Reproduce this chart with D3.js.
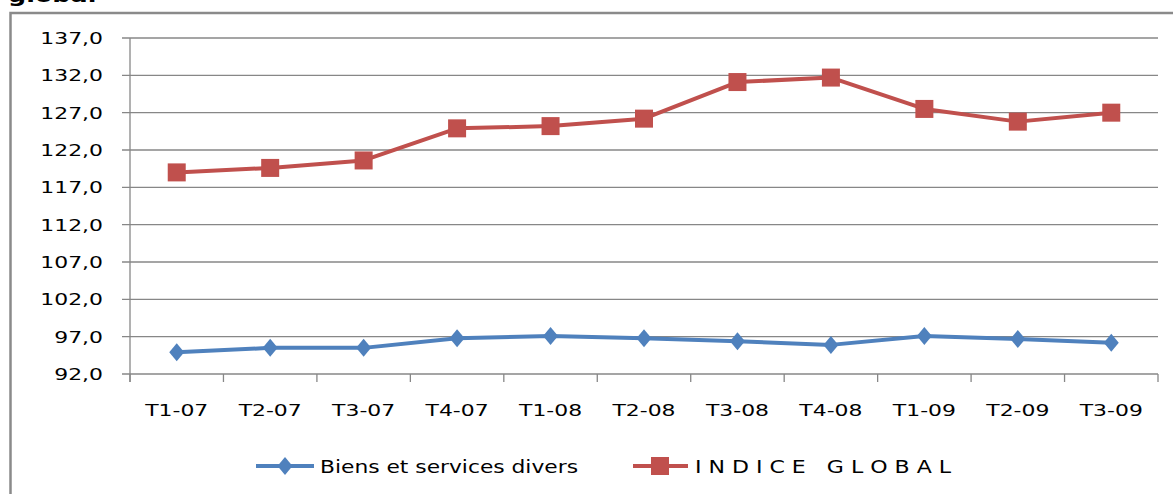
<!DOCTYPE html>
<html>
<head>
<meta charset="utf-8">
<script src="https://cdn.jsdelivr.net/npm/d3@7"></script>
<style>
  html, body { margin: 0; padding: 0; background: #fff; overflow: hidden; }
  text { font-family: "DejaVu Sans", Verdana, sans-serif; }
</style>
</head>
<body>
<div id="chart"></div>
<script>
// quarterly price index chart: Biens et services divers vs indice global

const categories = ["T1-07", "T2-07", "T3-07", "T4-07", "T1-08", "T2-08", "T3-08", "T4-08", "T1-09", "T2-09", "T3-09"];
const biensValues = [94.9, 95.5, 95.5, 96.8, 97.1, 96.8, 96.4, 95.9, 97.1, 96.7, 96.2];
const indiceValues = [119.0, 119.6, 120.6, 124.9, 125.2, 126.2, 131.1, 131.7, 127.5, 125.8, 127.0];
const yTicks = [92, 97, 102, 107, 112, 117, 122, 127, 132, 137];
const seriesNames = ["Biens et services divers", "I N D I C E   G L O B A L"];

function drawChart() {
  const width = 1173;
  const height = 494;
  const blue = "#4f81bd";
  const red = "#c0504d";
  const grid = "#878787";
  const stretch = 1.37;

  const svg = d3.select("#chart")
    .append("svg")
    .attr("width", width)
    .attr("height", height);

  // title, mostly cut off above the frame
  svg.append("text")
    .attr("transform", "translate(8,2) scale(1.27,1)")
    .attr("font-family", "Liberation Sans, Arial, sans-serif")
    .attr("font-weight", "bold")
    .attr("font-size", 20)
    .text("global");

  // chart frame
  svg.append("path")
    .attr("d", "M10.5," + (height + 2) + "V13H" + (width + 2))
    .attr("fill", "none")
    .attr("stroke", "#8a8a8a")
    .attr("stroke-width", 2.5);

  const x = d3.scaleBand().domain(categories).range([130, 1158]).padding(0);
  const y = d3.scaleLinear().domain([92, 137]).range([374, 38]);
  const cx = function(d, i) { return x(categories[i]) + x.bandwidth() / 2; };

  // gridlines + y ticks
  svg.append("g")
    .selectAll("line")
    .data(yTicks)
    .join("line")
    .attr("x1", 122)
    .attr("x2", 1158)
    .attr("y1", function(d) { return y(d); })
    .attr("y2", function(d) { return y(d); })
    .attr("stroke", grid)
    .attr("stroke-width", 1.3);

  // y axis line
  svg.append("line")
    .attr("x1", 130).attr("x2", 130)
    .attr("y1", y(137)).attr("y2", y(92) + 8)
    .attr("stroke", grid)
    .attr("stroke-width", 1.3);

  // x ticks at band edges
  const edges = categories.map(function(c) { return x(c); }).concat([x.range()[1]]);
  svg.append("g")
    .selectAll("line")
    .data(edges)
    .join("line")
    .attr("x1", function(d) { return d; })
    .attr("x2", function(d) { return d; })
    .attr("y1", y(92))
    .attr("y2", y(92) + 8)
    .attr("stroke", grid)
    .attr("stroke-width", 1.3);

  // y labels
  svg.append("g")
    .selectAll("text")
    .data(yTicks)
    .join("text")
    .attr("transform", function(d) { return "translate(103," + (y(d) + 6) + ") scale(" + stretch + ",1)"; })
    .attr("text-anchor", "end")
    .attr("font-size", 16)
    .attr("fill", "#000")
    .text(function(d) { return d3.format(".1f")(d).replace(".", ","); });

  // x labels
  svg.append("g")
    .selectAll("text")
    .data(categories)
    .join("text")
    .attr("transform", function(d) { return "translate(" + (x(d) + x.bandwidth() / 2) + ",416) scale(" + stretch + ",1)"; })
    .attr("text-anchor", "middle")
    .attr("font-size", 16)
    .attr("fill", "#000")
    .text(function(d) { return d; });

  const line = d3.line()
    .x(cx)
    .y(function(d) { return y(d); });

  // Biens et services divers
  svg.append("path")
    .datum(biensValues)
    .attr("d", line)
    .attr("fill", "none")
    .attr("stroke", blue)
    .attr("stroke-width", 4)
    .attr("stroke-linejoin", "round");

  const diamond = "M0,-9L7.5,0L0,9L-7.5,0Z";
  svg.append("g")
    .selectAll("path")
    .data(biensValues)
    .join("path")
    .attr("transform", function(d, i) { return "translate(" + cx(d, i) + "," + y(d) + ")"; })
    .attr("d", diamond)
    .attr("fill", blue);

  // indice global
  svg.append("path")
    .datum(indiceValues)
    .attr("d", line)
    .attr("fill", "none")
    .attr("stroke", red)
    .attr("stroke-width", 4)
    .attr("stroke-linejoin", "round");

  svg.append("g")
    .selectAll("rect")
    .data(indiceValues)
    .join("rect")
    .attr("x", function(d, i) { return cx(d, i) - 9; })
    .attr("y", function(d) { return y(d) - 9; })
    .attr("width", 18)
    .attr("height", 18)
    .attr("fill", red);

  // legend
  const legendY = 466;
  const legend = svg.append("g");

  legend.append("line")
    .attr("x1", 256).attr("x2", 314)
    .attr("y1", legendY).attr("y2", legendY)
    .attr("stroke", blue).attr("stroke-width", 4);
  legend.append("path")
    .attr("transform", "translate(285," + legendY + ")")
    .attr("d", diamond)
    .attr("fill", blue);
  legend.append("text")
    .attr("x", 320)
    .attr("y", legendY + 7)
    .attr("font-family", "Open Sans, sans-serif")
    .attr("font-size", 18)
    .attr("textLength", 258)
    .attr("lengthAdjust", "spacingAndGlyphs")
    .text(seriesNames[0]);

  legend.append("line")
    .attr("x1", 633).attr("x2", 688)
    .attr("y1", legendY).attr("y2", legendY)
    .attr("stroke", red).attr("stroke-width", 4);
  legend.append("rect")
    .attr("x", 651).attr("y", legendY - 9)
    .attr("width", 18).attr("height", 18)
    .attr("fill", red);
  legend.append("text")
    .attr("x", 695)
    .attr("y", legendY + 7)
    .attr("font-family", "Open Sans, sans-serif")
    .attr("font-size", 18)
    .attr("textLength", 256)
    .attr("lengthAdjust", "spacingAndGlyphs")
    .style("white-space", "pre")
    .text(seriesNames[1]);
}

if (document.readyState === "loading") {
  document.addEventListener("DOMContentLoaded", drawChart);
} else {
  drawChart();
}
</script>
</body>
</html>
